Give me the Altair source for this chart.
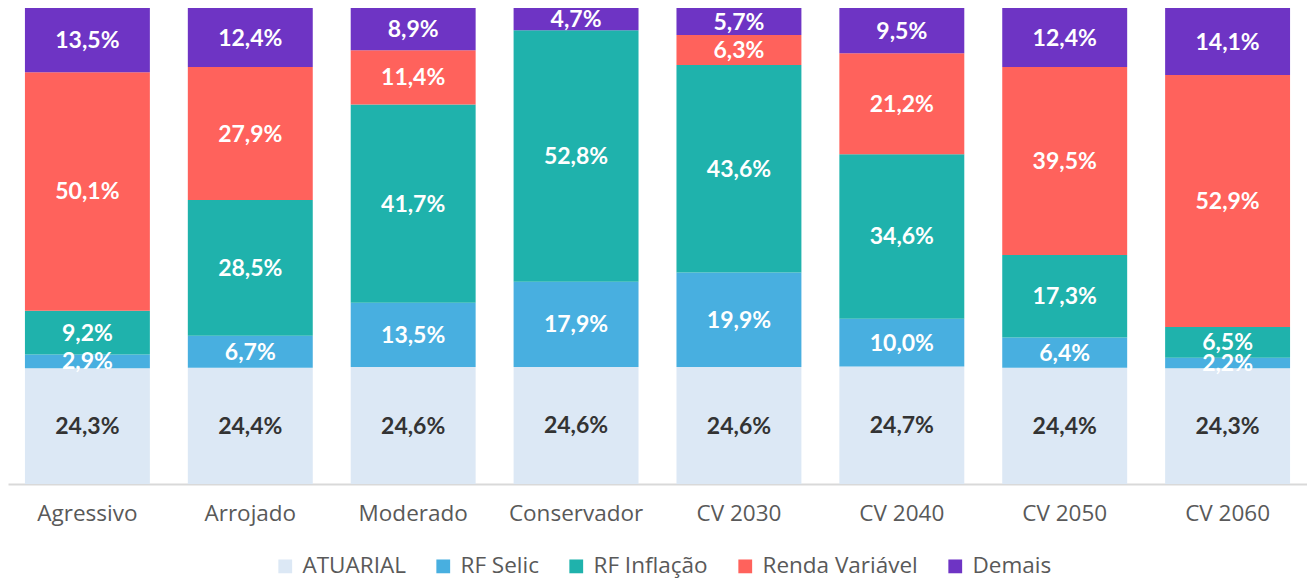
import altair as alt
import pandas as pd

categories = ["Agressivo", "Arrojado", "Moderado", "Conservador", "CV 2030", "CV 2040", "CV 2050", "CV 2060"]
series = ["ATUARIAL", "RF Selic", "RF Inflação", "Renda Variável", "Demais"]
colors = ["#DCE8F5", "#48AFE0", "#1FB2AC", "#FF625C", "#6E34C4"]
label_colors = ["#333333", "#FFFFFF", "#FFFFFF", "#FFFFFF", "#FFFFFF"]

atuarial = [24.3, 24.4, 24.6, 24.6, 24.6, 24.7, 24.4, 24.3]
rf_selic = [2.9, 6.7, 13.5, 17.9, 19.9, 10.0, 6.4, 2.2]
rf_inflacao = [9.2, 28.5, 41.7, 52.8, 43.6, 34.6, 17.3, 6.5]
renda_variavel = [50.1, 27.9, 11.4, 0.0, 6.3, 21.2, 39.5, 52.9]
demais = [13.5, 12.4, 8.9, 4.7, 5.7, 9.5, 12.4, 14.1]

values = [atuarial, rf_selic, rf_inflacao, renda_variavel, demais]
rows = []
for si, (s, vals) in enumerate(zip(series, values)):
    for c, v in zip(categories, vals):
        rows.append({"cat": c, "serie": s, "ord": si, "value": v,
                     "label": f"{v:.1f}%".replace(".", ","), "lc": label_colors[si]})
df = pd.DataFrame(rows)

base = alt.Chart(df).transform_stack(
    stack="value", groupby=["cat"], as_=["y0", "y1"],
    offset="normalize", sort=[alt.SortField("ord", order="ascending")]
)

bars = base.mark_bar().encode(
    x=alt.X("cat:N", sort=categories, title=None,
            scale=alt.Scale(paddingInner=0.233, paddingOuter=0.104),
            axis=alt.Axis(labelAngle=0, labelFontSize=22.5, labelColor="#595959",
                          labelFont="Open Sans", labelPadding=18, ticks=False,
                          domainColor="#D9D9D9", domainWidth=2)),
    y=alt.Y("y0:Q", axis=None, scale=alt.Scale(domain=[0, 1], nice=False)),
    y2="y1:Q",
    color=alt.Color("serie:N", sort=series,
                    scale=alt.Scale(domain=series, range=colors),
                    legend=alt.Legend(title=None, orient="none", direction="horizontal",
                                      legendX=266, legendY=547,
                                      symbolType="square", symbolSize=190,
                                      symbolStrokeWidth=0,
                                      labelFontSize=22.5, labelFont="Open Sans",
                                      labelColor="#595959", labelOffset=6,
                                      columnPadding=26)),
)

labels = base.transform_filter("datum.value > 0").transform_calculate(
    ymid="(datum.y0 + datum.y1) / 2"
).mark_text(fontSize=23, fontWeight="bold", font="Lato", baseline="middle", dy=1).encode(
    x=alt.X("cat:N", sort=categories),
    y=alt.Y("ymid:Q"),
    text="label:N",
    color=alt.Color("lc:N", scale=None),
)

chart = alt.layer(bars, labels).properties(
    width=1299, height=476, padding=0
).configure_view(stroke=None)

chart.save("out.html", embed_options={"renderer": "svg", "actions": False})
